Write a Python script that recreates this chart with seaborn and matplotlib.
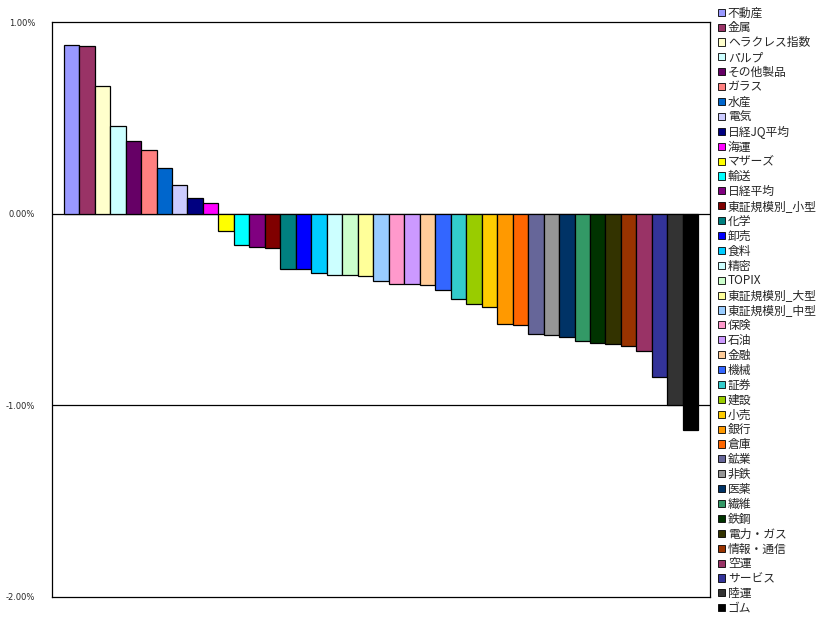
import matplotlib
matplotlib.use("Agg")
import matplotlib.pyplot as plt
import seaborn as sns
import pandas as pd
from matplotlib.patches import Patch
from matplotlib.ticker import FuncFormatter

categories = ["不動産", "金属", "ヘラクレス指数", "パルプ", "その他製品", "ガラス", "水産", "電気",
              "日経JQ平均", "海運", "マザーズ", "輸送", "日経平均", "東証規模別_小型", "化学", "卸売",
              "食料", "精密", "TOPIX", "東証規模別_大型", "東証規模別_中型", "保険", "石油", "金融",
              "機械", "証券", "建設", "小売", "銀行", "倉庫", "鉱業", "非鉄", "医薬", "繊維", "鉄鋼",
              "電力・ガス", "情報・通信", "空運", "サービス", "陸運", "ゴム"]
values = [0.88, 0.875, 0.666, 0.457, 0.379, 0.332, 0.238, 0.150, 0.082, 0.056,
          -0.093, -0.163, -0.174, -0.179, -0.287, -0.289, -0.310, -0.320, -0.320, -0.325,
          -0.351, -0.367, -0.367, -0.372, -0.398, -0.445, -0.471, -0.487, -0.575, -0.581,
          -0.628, -0.633, -0.643, -0.664, -0.675, -0.680, -0.689, -0.716, -0.850, -0.998, -1.13]
colors = ["#9999FF", "#993366", "#FFFFCC", "#CCFFFF", "#660066", "#FF8080", "#0066CC", "#CCCCFF",
          "#000080", "#FF00FF", "#FFFF00", "#00FFFF", "#800080", "#800000", "#008080", "#0000FF",
          "#00CCFF", "#CCFFFF", "#CCFFCC", "#FFFF99", "#99CCFF", "#FF99CC", "#CC99FF", "#FFCC99",
          "#3366FF", "#33CCCC", "#99CC00", "#FFCC00", "#FF9900", "#FF6600", "#666699", "#969696",
          "#003366", "#339966", "#003300", "#333300", "#993300", "#993366", "#333399", "#333333",
          "#000000"]
yticks = [1.0, 0.0, -1.0, -2.0]

sns.set_style("white")
plt.rcParams['font.family'] = ['Noto Sans CJK JP', 'DejaVu Sans']

df = pd.DataFrame({"cat": categories, "val": values})

W, H = 835, 629
fig = plt.figure(figsize=(W / 100, H / 100), dpi=100)
ax = fig.add_axes([52 / W, 1 - 597 / H, (710 - 52) / W, (597 - 22) / H])

sns.barplot(data=df, x="cat", y="val", hue="cat", palette=colors, order=categories,
            hue_order=categories, width=1.0, dodge=False, legend=False, saturation=1,
            edgecolor="black", linewidth=0.9, ax=ax)

n = len(categories)
ax.set_xlim(-0.5 - 0.75, n - 0.5 + 0.75)
ax.set_ylim(-2.0, 1.0)
ax.set_yticks(yticks)
ax.yaxis.set_major_formatter(FuncFormatter(lambda v, p: f"{v:.2f}%"))
ax.tick_params(axis="y", length=0, pad=12, labelsize=6)
for lab in ax.get_yticklabels():
    lab.set_family(['DejaVu Sans'])
ax.set_xticks([])
ax.set_xlabel("")
ax.set_ylabel("")
for y in [0.0, -1.0]:
    ax.axhline(y, color="black", linewidth=0.9, zorder=0.5)
for s in ax.spines.values():
    s.set_color("black")
    s.set_linewidth(0.9)
    s.set_visible(True)

handles = [Patch(facecolor=c, edgecolor="black", linewidth=0.6) for c in colors]
leg = fig.legend(handles, categories, loc="upper left", bbox_to_anchor=(716 / W, 1 - 4 / H),
                 frameon=False, fontsize=8.5, handlelength=0.55, handleheight=0.55,
                 handletextpad=0.25, labelspacing=0.16, borderpad=0.2, borderaxespad=0)

fig.savefig("out.png", dpi=100)
